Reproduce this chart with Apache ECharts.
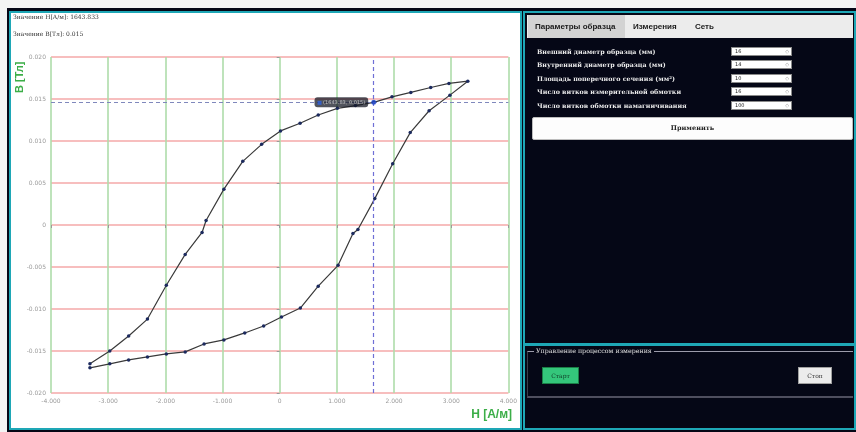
<!DOCTYPE html>
<html>
<head>
<meta charset="utf-8">
<script src="https://cdn.jsdelivr.net/npm/echarts@6/dist/echarts.min.js"></script>
<style>
  html, body { margin: 0; padding: 0; width: 856px; height: 432px; overflow: hidden; background: #f3f4f4; }
  .abs { position: absolute; box-sizing: border-box; }
  #win { left: 7px; top: 8px; width: 849px; height: 424px; background: #050716; }
  #plotPanel { left: 9px; top: 11px; width: 513px; height: 419px; border: 2px solid #1ea7b6; background: #fff; }
  #chart { position: absolute; left: 0; top: 0; width: 509px; height: 415px; }
  #side { left: 523px; top: 11px; width: 333px; height: 332px; border: 2px solid #1ea7b6; border-bottom: 0; background: #050716; }
  #ui { position: absolute; left: 0; top: 0; width: 856px; height: 432px; will-change: transform; }
  #tabs { left: 527px; top: 15px; width: 326px; height: 23px; background: #ececec; font-family: "Liberation Sans", sans-serif; font-weight: bold; font-size: 8px; color: #1a1a1a; }
  .tab { position: absolute; top: 0; height: 23px; line-height: 23px; white-space: nowrap; }
  #tab1 { left: 1px; width: 97px; background: #d3d3d3; padding-left: 7px; box-sizing: border-box; }
  .row { position: absolute; left: 537px; font-family: "DejaVu Serif", serif; font-weight: bold; font-size: 6.3px; color: #ececec; white-space: nowrap; line-height: 9px; }
  .inp { position: absolute; left: 731px; width: 61px; height: 9px; background: #fff; border: 1px solid #8a8a8a; box-sizing: border-box; font-family: "DejaVu Sans", sans-serif; font-size: 5px; line-height: 7px; color: #222; padding-left: 3px; }
  .inp span { position: absolute; right: 2px; top: 0; color: #999; font-size: 5px; }
  #apply { left: 532px; top: 117px; width: 321px; height: 23px; background: #fdfdfd; border: 1px solid #bdbdbd; border-radius: 2px; text-align: center; line-height: 21px; font-family: "DejaVu Serif", serif; font-weight: bold; font-size: 6.5px; color: #222; }
  #lower { left: 523px; top: 343px; width: 333px; height: 87px; border: 2px solid #1ea7b6; border-top-width: 3px; background: #050716; }
  #group { left: 527px; top: 351px; width: 326px; height: 47px; border-top: 1px solid #9c9cab; border-left: 1px solid #3c3c4c; border-bottom: 2px solid #4e4e5e; }
  #groupTitle { left: 534px; top: 347px; padding: 0 2px; background: #050716; font-family: "DejaVu Serif", serif; font-size: 6.3px; color: #e0e0e0; white-space: nowrap; line-height: 8px; }
  .btn { position: absolute; top: 367px; height: 17px; line-height: 15px; text-align: center; font-family: "DejaVu Serif", serif; font-size: 6px; box-sizing: border-box; }
  #start { left: 542px; width: 37px; background: #34c67b; border: 1px solid #1b7f47; color: #12402a; }
  #stop { left: 798px; width: 34px; background: #ececec; border: 1px solid #a0a0a0; color: #333; }
</style>
</head>
<body>
<div id="win" class="abs"></div>
<div id="plotPanel" class="abs"><div id="chart"></div></div>

<div id="ui">
  <div id="side" class="abs"></div>
  <div id="tabs" class="abs">
    <div id="tab1" class="tab">Параметры образца</div>
    <div class="tab" style="left:106px">Измерения</div>
    <div class="tab" style="left:168px">Сеть</div>
  </div>
  <div class="row" style="top:47px">Внешний диаметр образца (мм)</div>
  <div class="row" style="top:60px">Внутренний диаметр образца (мм)</div>
  <div class="row" style="top:74px">Площадь поперечного сечения (мм²)</div>
  <div class="row" style="top:87px">Число витков измерительной обмотки</div>
  <div class="row" style="top:101px">Число витков обмотки намагничивания</div>
  <div class="inp" style="top:47px">16<span>◇</span></div>
  <div class="inp" style="top:60px">14<span>◇</span></div>
  <div class="inp" style="top:74px">10<span>◇</span></div>
  <div class="inp" style="top:87px">16<span>◇</span></div>
  <div class="inp" style="top:101px">100<span>◇</span></div>
  <div id="apply" class="abs">Применить</div>

  <div id="lower" class="abs"></div>
  <div id="group" class="abs"></div>
  <div id="groupTitle" class="abs">Управление процессом измерения</div>
  <div id="start" class="btn">Старт</div>
  <div id="stop" class="btn">Стоп</div>
</div>

<script>
// Hysteresis loop B(H): rising branch (left to right) and falling branch (right to left)
const lowerH = [-3319, -2972, -2642, -2313, -1983, -1653, -1323, -976, -611, -281, 31, 361, 674, 1021, 1281, 1368, 1663, 1976, 2283, 2613, 2977, 3290];
const lowerB = [-0.01700, -0.01653, -0.01606, -0.01570, -0.01535, -0.01511, -0.01416, -0.01368, -0.01285, -0.01202, -0.01095, -0.00989, -0.00728, -0.00480, -0.00101, -0.00053, 0.00314, 0.00729, 0.01100, 0.01360, 0.01546, 0.01712];
const upperH = [2960, 2641, 2293, 1964, 1643.833, 1325, 1009, 674, 356, 14, -316, -646, -976, -1288, -1358, -1653, -1983, -2313, -2642, -2972, -3319];
const upperB = [0.01685, 0.01637, 0.01578, 0.01526, 0.0146, 0.01422, 0.01389, 0.01309, 0.01211, 0.01120, 0.00960, 0.00758, 0.00427, 0.00053, -0.00089, -0.00350, -0.00717, -0.01120, -0.01321, -0.01499, -0.01653];

// Point under the cursor (on the falling branch)
const cursorIndex = 4;
const cursorH = upperH[cursorIndex];
const cursorB = upperB[cursorIndex];

// Axis ranges and steps
const hRange = [-4000, 4000], hStep = 1000;
const bRange = [-0.02, 0.02], bStep = 0.005;

const loop = [];
lowerH.forEach((h, i) => loop.push([h, lowerB[i]]));
upperH.forEach((h, i) => loop.push([h, upperB[i]]));

const chart = echarts.init(document.getElementById('chart'), null, { renderer: 'canvas' });
const green = '#3cae48';
const tickFont = { fontSize: 6, color: '#9a9a9a', fontFamily: 'DejaVu Sans' };
const cursorLine = { color: '#6f6fd6', type: [4, 3], width: 1.2 };

chart.setOption({
  animation: false,
  backgroundColor: '#ffffff',
  grid: { left: 40, right: 9, top: 44, bottom: 35 },
  xAxis: {
    type: 'value', min: hRange[0], max: hRange[1], interval: hStep,
    axisLine: { show: false },
    axisTick: { show: true, length: 3, lineStyle: { color: '#9a9a9a' } },
    axisLabel: Object.assign({ margin: 5, formatter: v => v === 0 ? '0' : (v / 1000).toFixed(3) }, tickFont),
    splitLine: { show: true, lineStyle: { color: '#aedcaa', width: 1.6 } }
  },
  yAxis: {
    type: 'value', min: bRange[0], max: bRange[1], interval: bStep,
    axisLine: { show: false },
    axisTick: { show: true, length: 3, lineStyle: { color: '#9a9a9a' } },
    axisLabel: Object.assign({ margin: 5, formatter: v => Math.abs(v) < 1e-9 ? '0' : v.toFixed(3) }, tickFont),
    splitLine: { show: true, lineStyle: { color: '#f4a8a8', width: 1.6 } }
  },
  graphic: [
    { type: 'text', left: 2, top: 1, style: { text: 'Значение H[A/м]: ' + cursorH.toFixed(3), fontSize: 6, fontFamily: 'DejaVu Serif', fill: '#333' } },
    { type: 'text', left: 2, top: 18, style: { text: 'Значение B[Тл]: ' + cursorB.toFixed(3), fontSize: 6, fontFamily: 'DejaVu Serif', fill: '#333' } },
    { type: 'text', x: 9, y: 80, rotation: Math.PI / 2, style: { text: 'B [Тл]', fontSize: 11, fontWeight: 'bold', fontFamily: 'Liberation Sans', fill: green, textVerticalAlign: 'middle' } },
    { type: 'text', right: 8, top: 396, style: { text: 'H [А/м]', fontSize: 12, fontWeight: 'bold', fontFamily: 'Liberation Sans', fill: green } }
  ],
  series: [
    {
      type: 'line',
      data: loop,
      smooth: false,
      symbol: 'circle',
      symbolSize: 3.5,
      itemStyle: { color: '#1c2a5e' },
      lineStyle: { color: '#3a3a3a', width: 1.2 },
      markLine: {
        silent: true,
        precision: 6,
        symbol: ['none', 'none'],
        label: { show: false },
        lineStyle: cursorLine,
        data: [
          { xAxis: cursorH, lineStyle: cursorLine },
          { yAxis: cursorB, lineStyle: { color: '#8088bc', type: [4, 3], width: 1.2 } }
        ]
      },
      z: 3
    },
    {
      type: 'scatter',
      data: [[cursorH, cursorB]],
      symbolSize: 5,
      itemStyle: { color: '#2048c8' },
      z: 5,
      label: {
        show: true,
        position: 'left',
        distance: 3,
        backgroundColor: 'rgba(22,26,38,0.93)',
        borderRadius: 3,
        padding: [3, 3, 2, 3],
        color: '#d8d8d8',
        fontSize: 5,
        fontFamily: 'DejaVu Sans',
        formatter: () => '{d|} (' + cursorH.toFixed(2) + ', ' + cursorB.toFixed(3) + ')',
        rich: { d: { backgroundColor: '#2f63e0', width: 4, height: 4 } }
      }
    }
  ]
});
</script>
</body>
</html>
